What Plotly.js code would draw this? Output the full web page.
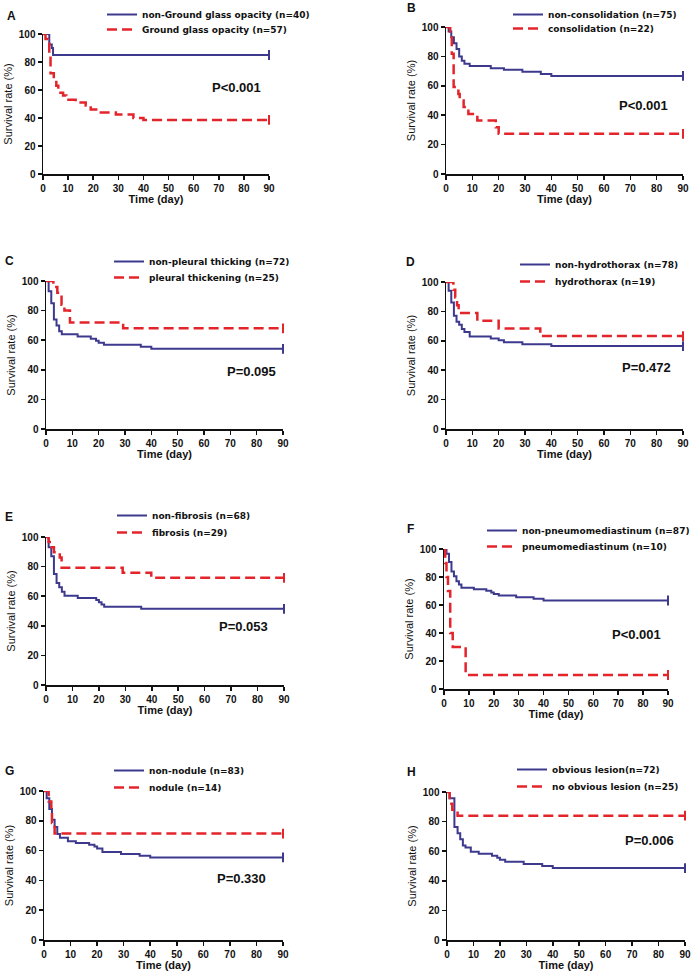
<!DOCTYPE html>
<html>
<head>
<meta charset="utf-8">
<script src="https://cdn.plot.ly/plotly-3.0.1.min.js"></script>
<style>
html,body{margin:0;padding:0;background:#fff}
#chart{width:698px;height:975px}
</style>
</head>
<body>
<div id="chart"></div>
<script>
// ---------- DATA (Kaplan-Meier step points: day, survival %) ----------
const panelLetters = ["A","B","C","D","E","F","G","H"];
const pValues = ["P<0.001","P<0.001","P=0.095","P=0.472","P=0.053","P<0.001","P=0.330","P=0.006"];
const blueNames = ["non-Ground glass opacity (n=40)","non-consolidation (n=75)","non-pleural thicking (n=72)","non-hydrothorax (n=78)","non-fibrosis (n=68)","non-pneumomediastinum (n=87)","non-nodule (n=83)","obvious lesion(n=72)"];
const redNames = ["Ground glass opacity (n=57)","consolidation (n=22)","pleural thickening (n=25)","hydrothorax (n=19)","fibrosis (n=29)","pneumomediastinum (n=10)","nodule (n=14)","no obvious lesion (n=25)"];

const aBlueT = [0,2.5,3.5,4,90];
const aBlueS = [100,92.5,90,85,85];
const aRedT  = [0,1,2,2.5,3,4.3,5.3,6.1,8,9.3,13,17,19,22,29,36,40,90];
const aRedS  = [100,96.5,93,86,72,68,63,58,56,53,51,49,46,44,42.5,40,38.6,38.6];

const bBlueT = [0,1,2,3,4,5,6,7,9,17,22,29,36,40,90];
const bBlueS = [100,97,93,89,85,80,77,75,73.5,72,71,69.5,68,66.7,66.7];
const bRedT  = [0,1.6,2.2,2.9,4.7,5.2,6.7,8.5,11.9,18.9,20,90];
const bRedS  = [100,95.5,81.8,59.1,54.5,50,45.5,40.9,36.4,31.8,27.3,27.3];

const cBlueT = [0,1,2,3,4,5,6,12,17,19,20,22,36,40,90];
const cBlueS = [100,93,85,74,70,66,64,62.5,61,59.7,58.3,56.9,55.6,54.2,54.2];
const cRedT  = [0,2.8,4.3,5.9,7,9.1,29.3,90];
const cRedS  = [100,96,92,84,80,72,68,68];

const dBlueT = [0,1,2,3,4,5,6,7,9,17,20,22,29,40,90];
const dBlueS = [100,94,86,77,73,71,68,66,63,61.5,60.3,59,57.7,56.4,56.4];
const dRedT  = [0,2.8,3.5,4.2,4.8,11.9,20,35.8,90];
const dRedS  = [100,94.7,89.5,84.2,78.9,73.7,68.4,63.2,63.2];

const eBlueT = [0,1,2,3,4,5,6,7,12,19,20,21,22,36,90];
const eBlueS = [100,93,87,75,69,66,63,60.3,58.8,57.4,55.9,54.4,52.9,51.5,51.5];
const eRedT  = [0,1,2,3,5.2,5.9,29,39.8,90];
const eRedS  = [100,96.6,93.1,89.7,86.2,79.3,75.9,72.4,72.4];

const fBlueT = [0,1,2,3,4,5,6,7,12,17,19,20,22,29,36,40,90];
const fBlueS = [100,96.6,90.8,83.9,80.5,77,74.7,72.4,71.3,70.1,69,67.8,66.7,65.5,64.4,63.2,63.2];
const fRedT  = [0,0.5,1,1.6,2.5,3.5,8.7,90];
const fRedS  = [100,90,80,70,40,30,10,10];

const gBlueT = [0,1,2,3,4,5,6,9,12,17,19,20,22,29,36,40,90];
const gBlueS = [100,95.2,88,80.7,75.9,71.1,68.7,66.3,65.1,63.9,62.7,61.4,59,57.8,56.6,55.4,55.4];
const gRedT  = [0,1.75,2.75,3,4,90];
const gRedS  = [100,92.9,85.7,78.6,71.4,71.4];

const hBlueT = [0,1,2.8,4,5,6,7,9,12,17,19,20,22,29,36,40,90];
const hBlueS = [100,95.8,76.4,72.2,68.1,63.9,62.5,59.7,58.3,56.9,55.6,54.2,52.8,51.4,50,48.6,48.6];
const hRedT  = [0,1,2,4,90];
const hRedS  = [100,92,88,84,84];

const xTicks = [0,10,20,30,40,50,60,70,80,90];
const yTicks = [0,20,40,60,80,100];

// ---------- LAYOUT (pixel boxes of each panel) ----------
const W = 698, H = 975;
const boxes = [ // [left, right, top, bottom] of plot area in px
  [43,269,34,174],[446,683,27,174],
  [46,283,281,429],[446,683,282,429],
  [46,284,537,685],[444,668,549,689],
  [44,283,791,940],[447,685,792,940]
];
// legend left x, and top y of first / second row legend
const legendX = [102,508,109,515,112,482,109,512];
const legendTop1 = [0,0,247,250,501,516,756,755];
const legendTop2 = [15,14,263,267,518,532,773,772];
const pPos = [[236,87],[643,106],[251,371],[646,367],[243,626],[636,634],[242,878],[649,840]];
const letterPos = [[5,16],[405,8],[3,261],[404,262],[3,517],[405,529],[3,771],[405,772]];

const blueT = [aBlueT,bBlueT,cBlueT,dBlueT,eBlueT,fBlueT,gBlueT,hBlueT];
const blueS = [aBlueS,bBlueS,cBlueS,dBlueS,eBlueS,fBlueS,gBlueS,hBlueS];
const redT  = [aRedT,bRedT,cRedT,dRedT,eRedT,fRedT,gRedT,hRedT];
const redS  = [aRedS,bRedS,cRedS,dRedS,eRedS,fRedS,gRedS,hRedS];

const BLUE = "#3d3a8e", RED = "#e3242b";
const FONT = "Liberation Sans, Arial, sans-serif";
const LEGFONT = "DejaVu Sans, Verdana, sans-serif";

const data = [];
const layout = {
  width: W, height: H,
  margin: {l:0, r:0, t:0, b:0},
  paper_bgcolor: "#fff", plot_bgcolor: "#fff",
  showlegend: true,
  font: {family: FONT, color: "#111"},
  annotations: []
};

function legendCfg(x, top) {
  return {
    x: x/W, y: 1 - top/H, xanchor: "left", yanchor: "top",
    xref: "paper", yref: "paper",
    bgcolor: "rgba(0,0,0,0)", borderwidth: 0, tracegroupgap: 0,
    font: {family: LEGFONT, size: 9, weight: "bold", color: "#111"}
  };
}

for (let i = 0; i < 8; i++) {
  const n = i + 1;
  const xa = n === 1 ? "x" : "x" + n;
  const ya = n === 1 ? "y" : "y" + n;
  const lgA = (2*i+1) === 1 ? "legend" : "legend" + (2*i+1);
  const lgB = "legend" + (2*i+2);
  const b = boxes[i];

  data.push({
    x: blueT[i], y: blueS[i], type: "scatter", mode: "lines",
    line: {color: BLUE, width: 2, shape: "hv"},
    name: blueNames[i], xaxis: xa, yaxis: ya, legend: lgA
  });
  data.push({
    x: redT[i], y: redS[i], type: "scatter", mode: "lines",
    line: {color: RED, width: 2.5, shape: "hv", dash: "10px,5px"},
    name: redNames[i], xaxis: xa, yaxis: ya, legend: lgB
  });
  // censor ticks at the end of follow-up
  data.push({
    x: [blueT[i][blueT[i].length-1], redT[i][redT[i].length-1]],
    y: [blueS[i][blueS[i].length-1], redS[i][redS[i].length-1]],
    type: "scatter", mode: "markers", showlegend: false, hoverinfo: "skip",
    marker: {symbol: "line-ns-open", size: 7, color: [BLUE, RED], line: {width: 2}},
    xaxis: xa, yaxis: ya, cliponaxis: false
  });

  const tickfont = {family: FONT, size: 10, weight: "bold", color: "#111"};
  layout["xaxis" + (n === 1 ? "" : n)] = {
    domain: [b[0]/W, b[1]/W], anchor: ya, range: [0, 90],
    tickvals: xTicks, ticktext: xTicks.map(String),
    showline: true, linecolor: "#111", linewidth: 1.5,
    ticks: "outside", ticklen: 4, tickwidth: 1.5, tickcolor: "#111",
    showgrid: false, zeroline: false, tickfont: tickfont, fixedrange: true,
    title: {text: "Time (day)", font: {family: FONT, size: 11, weight: "bold", color: "#111"}, standoff: 3}
  };
  layout["yaxis" + (n === 1 ? "" : n)] = {
    domain: [1 - b[3]/H, 1 - b[2]/H], anchor: xa, range: [0, 100],
    tickvals: yTicks, ticktext: yTicks.map(String),
    showline: true, linecolor: "#111", linewidth: 1.5,
    ticks: "outside", ticklen: 4, tickwidth: 1.5, tickcolor: "#111",
    showgrid: false, zeroline: false, tickfont: tickfont, fixedrange: true,
    title: {text: "Survival rate (%)", font: {family: FONT, size: 11, color: "#111"}, standoff: 4}
  };
  layout[lgA] = legendCfg(legendX[i], legendTop1[i]);
  layout[lgB] = legendCfg(legendX[i], legendTop2[i]);
  layout.annotations.push({
    text: pValues[i], xref: "paper", yref: "paper",
    x: pPos[i][0]/W, y: 1 - pPos[i][1]/H, xanchor: "center", yanchor: "middle",
    showarrow: false, font: {family: FONT, size: 13, weight: "bold", color: "#111"}
  });
  layout.annotations.push({
    text: panelLetters[i], xref: "paper", yref: "paper",
    x: letterPos[i][0]/W, y: 1 - letterPos[i][1]/H, xanchor: "left", yanchor: "middle",
    showarrow: false, font: {family: FONT, size: 12, weight: "bold", color: "#111"}
  });
}

Plotly.newPlot("chart", data, layout, {displayModeBar: false, staticPlot: true});
</script>
</body>
</html>
